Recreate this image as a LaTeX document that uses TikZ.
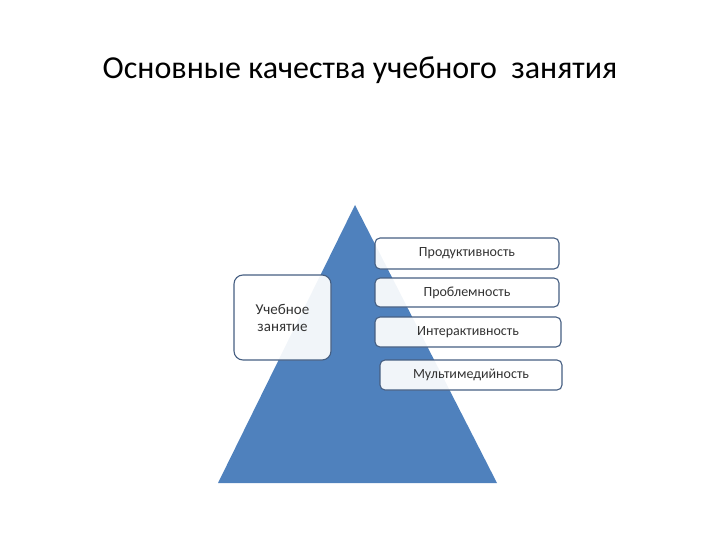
\documentclass[tikz,border=0pt]{standalone}
\usepackage{fontspec}
\setmainfont{Carlito}
\begin{document}
\begin{tikzpicture}[x=1pt,y=-1pt,
  qbox/.style={draw={rgb,255:red,70;green,95;blue,130},line width=1.1pt,fill=white,fill opacity=0.92,text opacity=1,rounded corners=5pt,inner sep=0pt,font=\fontsize{14}{16}\selectfont,text=black!80}]
\useasboundingbox (0,0) rectangle (720,540);
\node (title) at (360,70) {\fontsize{32}{36}\selectfont Основные качества учебного\ \ занятия};
\fill[fill={rgb,255:red,79;green,129;blue,189}] (355,205) coordinate (apex) -- (497,483) coordinate (br) -- (218,483) coordinate (bl) -- cycle;
\node[qbox,minimum width=184pt,minimum height=31pt] (p1) at (467,253.5) {Продуктивность};
\node[qbox,minimum width=184pt,minimum height=29pt] (p2) at (467,292.5) {Проблемность};
\node[qbox,minimum width=186pt,minimum height=30pt] (p3) at (468,332) {Интерактивность};
\node[qbox,minimum width=182pt,minimum height=30pt] (p4) at (471,375) {Мультимедийность};
\node[qbox,minimum width=97pt,minimum height=85pt,rounded corners=9pt,align=center,font=\fontsize{15}{17}\selectfont] (main) at (282.5,317.5) {Учебное\\занятие};
\end{tikzpicture}
\end{document}
